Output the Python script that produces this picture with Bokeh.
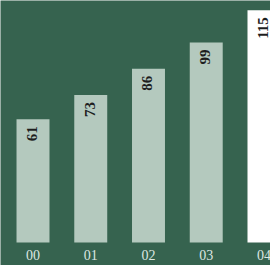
import math
from bokeh.plotting import figure
from bokeh.models import ColumnDataSource, Range1d
from bokeh.core.properties import value
from bokeh.embed import file_html
from bokeh.resources import INLINE

years = ["00", "01", "02", "03", "04"]
values = [61, 73, 86, 99, 115]

BG = "#36634F"
BAR = "#B4C9BE"
bar_colors = [BAR, BAR, BAR, BAR, "#FFFFFF"]

xs = list(range(len(years)))
src = ColumnDataSource(dict(
    x=xs,
    top=values,
    label=[str(v) for v in values],
    year=years,
    base=[0] * len(years),
    color=bar_colors,
))

p = figure(
    frame_width=270, frame_height=265,
    x_range=Range1d(-0.563, 4.113),
    y_range=Range1d(-11.39, 119.8),
    output_backend="svg", toolbar_location=None,
    min_border=0,
    x_axis_location=None, y_axis_location=None,
)
p.styles = {"position": "absolute", "left": "0px", "top": "0px"}
p.background_fill_color = BG
p.border_fill_color = BG
p.outline_line_color = None
p.grid.visible = False

p.vbar(x="x", top="top", bottom=0, width=0.571, fill_color="color",
       line_color=None, source=src)

p.text(x="x", y="top", text="label", source=src, angle=math.pi / 2,
       text_align="right", text_baseline="middle", y_offset=7, x_offset=-1,
       text_font=value("Liberation Serif"), text_font_style="bold",
       text_font_size="15px", text_color="#1E1E1E")

p.text(x="x", y="base", text="year", source=src,
       text_align="center", text_baseline="middle", y_offset=13,
       text_font=value("Liberation Serif"), text_font_size="14px",
       text_color="#DDE7E2")

open("out.html", "w").write(file_html(p, INLINE))
